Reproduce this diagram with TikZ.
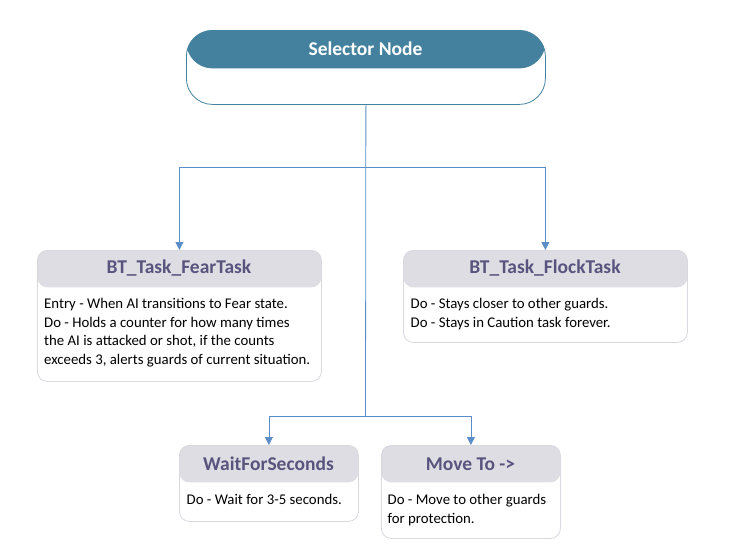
\documentclass[tikz,border=0pt]{standalone}
\usepackage{fontspec}
\setmainfont{Carlito}
\usetikzlibrary{positioning,arrows.meta}
\definecolor{selteal}{RGB}{68,129,158}
\definecolor{headgray}{RGB}{222,221,227}
\definecolor{boxline}{RGB}{216,216,222}
\definecolor{titlecol}{RGB}{88,84,126}
\definecolor{linkblue}{RGB}{91,142,200}
\tikzset{
  selbox/.style={draw=selteal, line width=0.8pt, fill=white, rounded corners=26pt, inner sep=0pt,
    anchor=north west, minimum width=359pt, minimum height=74pt,
    path picture={\fill[selteal] (path picture bounding box.north west) rectangle
      ([yshift=-38pt]path picture bounding box.north east);}},
  taskbox/.style={draw=boxline, line width=0.8pt, fill=white, rounded corners=10pt, inner sep=0pt,
    anchor=north west,
    path picture={\fill[headgray] (path picture bounding box.north west) rectangle
      ([yshift=-37pt]path picture bounding box.north east);}},
  seltitle/.style={font=\fontsize{19.5}{22}\selectfont\bfseries, text=white},
  tasktitle/.style={font=\fontsize{19.5}{22}\selectfont\bfseries, text=titlecol},
  taskbody/.style={font=\fontsize{14.8}{18.7}\selectfont, align=left, anchor=north west, inner sep=0pt},
  link/.style={draw=linkblue, line width=0.8pt},
  arrow/.style={link, -{Triangle[width=8pt,length=8pt]}}
}
\begin{document}
\begin{tikzpicture}[x=1pt,y=-1pt]
        \useasboundingbox (0,0) rectangle (732,552);
        % Selector at the top
        \node[selbox] (sel) at (186,30) {};
        \node[seltitle] (seltext) at (365.5,49) {Selector Node};

        % Task boxes
        \node[taskbox, minimum width=284pt, minimum height=131pt] (fear) at (37,250) {};
        \node[tasktitle] (feartitle) at (179,268) {BT\_Task\_FearTask};
        \node[taskbody] (fearbody) at (44,298) {Entry - When AI transitions to Fear state.\\
          Do - Holds a counter for how many times\\
          the AI is attacked or shot, if the counts\\
          exceeds 3, alerts guards of current situation.};

        \node[taskbox, minimum width=284pt, minimum height=92pt] (flock) at (403,250) {};
        \node[tasktitle] (flocktitle) at (545,268) {BT\_Task\_FlockTask};
        \node[taskbody] (flockbody) at (410.5,298) {Do - Stays closer to other guards.\\
          Do - Stays in Caution task forever.};

        \node[taskbox, minimum width=179pt, minimum height=76pt] (wait) at (179,445) {};
        \node[tasktitle] (waittitle) at (268.5,464) {WaitForSeconds};
        \node[taskbody] (waitbody) at (186.5,494) {Do - Wait for 3-5 seconds.};

        \node[taskbox, minimum width=179pt, minimum height=93pt] (move) at (381,445) {};
        \node[tasktitle] (movetitle) at (470.5,464) {Move To ->};
        \node[taskbody] (movebody) at (387.5,494) {Do - Move to other guards\\
          for protection.};

        % Connectors
        \coordinate (split1) at (365.5,167);
        \coordinate (split2) at (365.5,416);
        \draw[link] (sel.south) -- (split2);
        \draw[arrow] (split1) -| (fear.north);
        \draw[arrow] (split1) -| (flock.north);
        \draw[arrow] (split2) -| (wait.north);
        \draw[arrow] (split2) -| (move.north);
    \end{tikzpicture}
\end{document}
